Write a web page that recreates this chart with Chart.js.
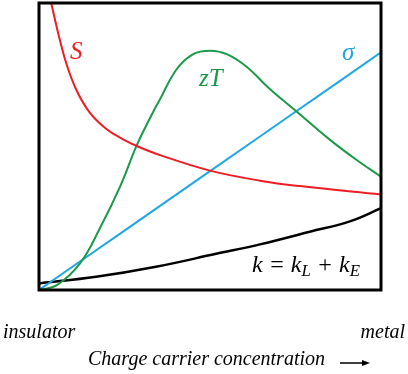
<!DOCTYPE html>
<html>
<head>
<meta charset="utf-8">
<script src="https://cdn.jsdelivr.net/npm/chart.js@4"></script>
<style>
  html, body { margin: 0; padding: 0; background: #fff; }
  #wrap { position: relative; width: 408px; height: 374px; }
  .lbl { position: absolute; font-style: italic; line-height: 1; white-space: nowrap; }
  .lbl sub { font-size: 0.7em; vertical-align: -0.25em; line-height: 0; }
</style>
</head>
<body>
<div id="wrap">
  <canvas id="grafico" width="408" height="374"></canvas>
  <div class="lbl" style="font-family:'Liberation Serif'; left:70px; top:38px; font-size:25px; color:#ee1c24;">S</div>
  <div class="lbl" style="font-family:'Liberation Serif'; left:199px; top:65px; font-size:25px; color:#1a9a48;">zT</div>
  <div class="lbl" style="font-family:'Liberation Serif'; left:342px; top:39px; font-size:25px; color:#1ea7e1;">σ</div>
  <div class="lbl" style="font-family:'Liberation Serif'; left:252px; top:252px; font-size:24px; color:#000;">k = k<sub>L</sub> + k<sub>E</sub></div>
  <div class="lbl" id="lIns" style="font-family:'Liberation Serif'; left:3px; top:321px; font-size:20px;"></div>
  <div class="lbl" id="lMet" style="font-family:'Liberation Serif'; right:3px; top:321px; font-size:20px;"></div>
  <div class="lbl" id="lTit" style="font-family:'Liberation Serif'; left:88px; top:348px; font-size:20px;"></div>
</div>
<script>
// ==========================
// DADOS
// ==========================
const xS = [3.2, 4.7, 6.1, 8.1, 11.0, 14.9, 19.8, 24.6, 28.9, 35.4, 50, 64.6, 76.3, 100];
const seebeck = [102, 94.1, 87.1, 78.5, 69.5, 61.7, 56.0, 52.5, 50.0, 47.0, 41.6, 38.1, 36.2, 33.3];

const xZT = [0, 5.2, 12.0, 17.8, 23.7, 28.6, 32.5, 35.4, 40.3, 45.1, 50, 54.9, 60.7, 67.5, 75.4, 85.1, 92.9, 100];
const zT = [0, 1.7, 9.3, 21.5, 36.0, 50.5, 60.0, 66.5, 77.0, 82.2, 83.4, 82.2, 77.8, 70.0, 62.1, 52.3, 45.3, 39.5];

const xSigma = [0, 25, 50, 75, 100];
const sigma = [0, 20.7, 41.4, 62.1, 82.8];

const xK = [0, 16.7, 34.2, 51.8, 64.6, 79.2, 90.9, 100];
const kappa = [2.3, 4.6, 8.1, 12.6, 15.9, 20.3, 23.9, 28.5];

const xLabels = ["insulator", "metal"];
const axisTitle = "Charge carrier concentration";

document.getElementById("lIns").textContent = xLabels[0];
document.getElementById("lMet").textContent = xLabels[1];
document.getElementById("lTit").textContent = axisTitle;

function pares(xs, ys) {
  return xs.map((x, i) => ({ x: x, y: ys[i] }));
}

function serie(xs, ys, cor, largura) {
  return {
    data: pares(xs, ys),
    borderColor: cor,
    borderWidth: largura,
    pointRadius: 0,
    fill: false,
    tension: 0.4,
  };
}

// ==========================
// MOLDURA E SETA
// ==========================
const moldura = {
  id: "moldura",
  afterDatasetsDraw(chart) {
    const ctx = chart.ctx;
    const a = chart.chartArea;
    ctx.save();
    ctx.strokeStyle = "#000";
    ctx.fillStyle = "#000";
    ctx.lineWidth = 3;
    ctx.strokeRect(a.left, a.top, a.right - a.left, a.bottom - a.top);

    ctx.lineWidth = 1.5;
    ctx.beginPath();
    ctx.moveTo(340, 363);
    ctx.lineTo(364, 363);
    ctx.stroke();
    ctx.beginPath();
    ctx.moveTo(370, 363);
    ctx.lineTo(362, 360);
    ctx.lineTo(362, 366);
    ctx.closePath();
    ctx.fill();
    ctx.restore();
  },
};

// ==========================
// GRAFICO
// ==========================
let chart;

function iniciarGrafico() {
  const ctx = document.getElementById("grafico").getContext("2d");
  chart = new Chart(ctx, {
    type: "line",
    data: {
      datasets: [
        serie(xS, seebeck, "#ee1c24", 2),
        serie(xZT, zT, "#1a9a48", 2),
        serie(xSigma, sigma, "#1ea7e1", 2),
        serie(xK, kappa, "#000", 2.5),
      ],
    },
    options: {
      responsive: false,
      animation: false,
      layout: { padding: { left: 39, right: 27, top: 3, bottom: 84 } },
      plugins: { legend: { display: false }, tooltip: { enabled: false } },
      scales: {
        x: { type: "linear", min: 0, max: 100, display: false },
        y: { type: "linear", min: 0, max: 100, display: false },
      },
    },
    plugins: [moldura],
  });
}

iniciarGrafico();
</script>
</body>
</html>
